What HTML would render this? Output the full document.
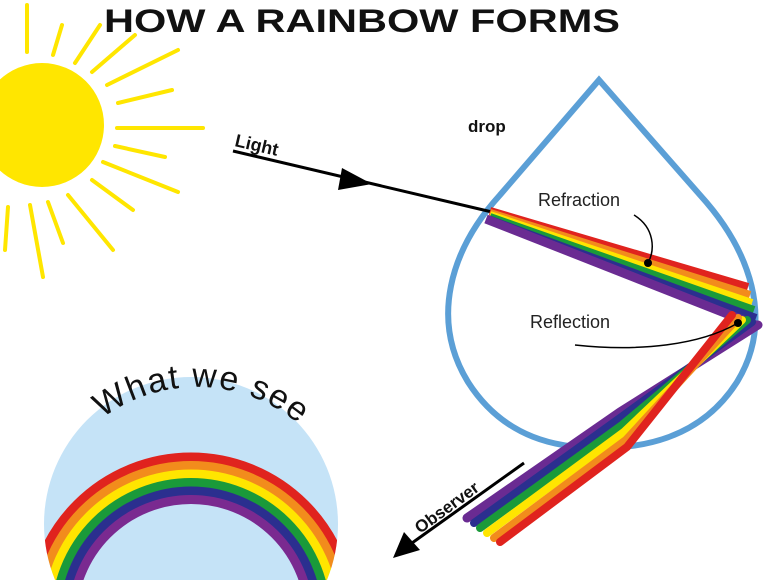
<!DOCTYPE html>
<html><head><meta charset="utf-8"><style>html,body{margin:0;padding:0;background:#fff;width:773px;height:580px;overflow:hidden}svg{display:block}</style></head>
<body>
<svg width="773" height="580" viewBox="0 0 773 580" xmlns="http://www.w3.org/2000/svg" font-family="Liberation Sans, sans-serif" style="overflow:hidden">
<defs><clipPath id="cc"><circle cx="191" cy="524" r="147"/></clipPath></defs>
<!-- sun -->
<circle cx="42" cy="125" r="62" fill="#ffe600"/>
<g stroke="#ffe600" stroke-width="4" stroke-linecap="round">
<line x1="27" y1="5" x2="27" y2="52"/><line x1="62" y1="25" x2="53" y2="55"/>
<line x1="100" y1="25" x2="75" y2="63"/><line x1="135" y1="35" x2="92" y2="72"/>
<line x1="178" y1="50" x2="107" y2="85"/><line x1="172" y1="90" x2="118" y2="103"/>
<line x1="203" y1="128" x2="117" y2="128"/><line x1="165" y1="157" x2="115" y2="146"/>
<line x1="178" y1="192" x2="103" y2="162"/><line x1="133" y1="210" x2="92" y2="180"/>
<line x1="113" y1="250" x2="68" y2="195"/><line x1="63" y1="243" x2="48" y2="202"/>
<line x1="43" y1="277" x2="30" y2="205"/><line x1="5" y1="250" x2="8" y2="207"/>
</g>
<text x="104" y="32" font-size="32" font-weight="bold" fill="#111" textLength="516" lengthAdjust="spacingAndGlyphs">HOW A RAINBOW FORMS</text>
<!-- drop -->
<path d="M599,80 L500,195 C450,250 430,320 468,382 C505,440 560,448 600,448 C640,448 700,440 737,382 C775,320 750,250 700,195 Z" fill="none" stroke="#5b9fd6" stroke-width="6"/>
<text x="468" y="132" font-size="17" font-weight="bold" fill="#111">drop</text>
<!-- light -->
<line x1="233" y1="151" x2="492" y2="212" stroke="#000" stroke-width="3"/>
<polygon points="372,184 342,168 338,190" fill="#000"/>
<text x="0" y="0" font-size="18" font-weight="bold" transform="translate(234,146) rotate(13)" fill="#111">Light</text>
<!-- incoming bands -->
<g stroke-width="8" stroke-linecap="butt" fill="none">
<line x1="490" y1="211" x2="748" y2="287" stroke="#e0231e"/>
<line x1="490" y1="213" x2="750" y2="295" stroke="#f28c1c"/>
<line x1="490" y1="215" x2="752" y2="303" stroke="#ffe500"/>
<line x1="490" y1="217" x2="754" y2="310" stroke="#1a9a3a"/>
<line x1="488" y1="219" x2="756" y2="318" stroke="#2b2f8f"/>
<line x1="486" y1="219" x2="758" y2="326" stroke="#6a2b92" stroke-width="9"/>
<!-- outgoing -->
<polyline points="758,325 620,412 467,518" stroke="#6a2b92" stroke-width="9" stroke-linecap="round"/>
<polyline points="752,322 620,418 474,523" stroke="#2b2f8f" stroke-linecap="round"/>
<polyline points="747,320 622,425 480,528" stroke="#1a9a3a" stroke-linecap="round"/>
<polyline points="742,320 624,432 487,533" stroke="#ffe500" stroke-linecap="round"/>
<polyline points="738,318 626,440 494,538" stroke="#f28c1c" stroke-linecap="round"/>
<polyline points="732,315 627,447 500,542" stroke="#e0231e" stroke-linecap="round"/>
</g>
<!-- labels -->
<text x="538" y="206" font-size="18" fill="#222">Refraction</text>
<path d="M634,215 C655,228 655,250 648,263" stroke="#000" stroke-width="1.5" fill="none"/>
<circle cx="648" cy="263" r="4" fill="#000"/>
<text x="530" y="328" font-size="18" fill="#222">Reflection</text>
<path d="M575,345 C640,352 700,345 738,323" stroke="#000" stroke-width="1.5" fill="none"/>
<circle cx="738" cy="323" r="4" fill="#000"/>
<!-- observer -->
<line x1="524" y1="463" x2="405" y2="548" stroke="#000" stroke-width="3"/>
<polygon points="393,558 404,532 420,550" fill="#000"/>
<text x="0" y="0" font-size="17" font-weight="bold" fill="#111" transform="translate(420,534) rotate(-36)">Observer</text>
<!-- what we see -->
<circle cx="191" cy="524" r="147" fill="#c5e3f7"/>
<g clip-path="url(#cc)" fill="none" stroke-width="9">
<circle cx="191" cy="618" r="161" stroke="#e0231e"/>
<circle cx="191" cy="618" r="152.5" stroke="#f28c1c"/>
<circle cx="191" cy="618" r="144" stroke="#ffe500"/>
<circle cx="191" cy="618" r="135.5" stroke="#1a9a3a"/>
<circle cx="191" cy="618" r="127" stroke="#2b2f8f"/>
<circle cx="191" cy="618" r="118.5" stroke="#7a2a90"/>
</g>
<path id="arc" d="M39,545 A158 158 0 0 1 355,545" fill="none"/>
<text font-size="34" fill="#111" letter-spacing="1.5"><textPath href="#arc" startOffset="51%" text-anchor="middle">What we see</textPath></text>
</svg>
</body></html>
